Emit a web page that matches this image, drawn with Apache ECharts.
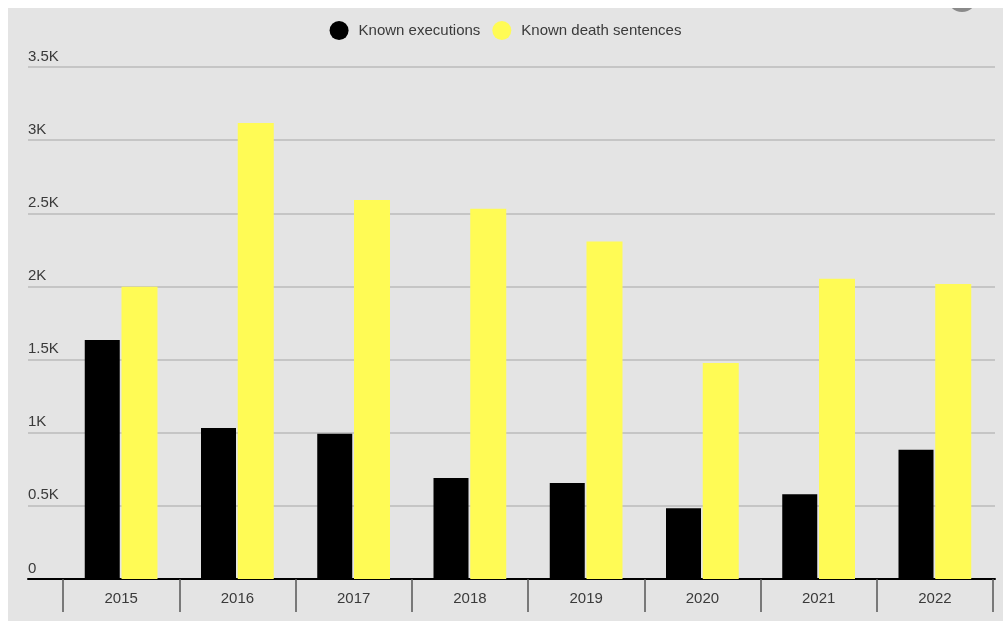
<!DOCTYPE html>
<html>
<head>
<meta charset="utf-8">
<script src="https://cdn.jsdelivr.net/npm/echarts@6/dist/echarts.min.js"></script>
<style>
	html, body { margin: 0; padding: 0; background: #ffffff; }
	#main { position: absolute; left: 8px; top: 8px; width: 995px; height: 613px; background: #e4e4e4; }
</style>
</head>
<body>
<div id="main"></div>
<script>
var years = ['2015', '2016', '2017', '2018', '2019', '2020', '2021', '2022'];
var executions = [1634, 1032, 993, 690, 657, 483, 579, 883]; // Known executions
var sentences = [1998, 3117, 2591, 2531, 2307, 1477, 2052, 2016]; // Known death sentences
var yTicks = [0, 500, 1000, 1500, 2000, 2500, 3000, 3500];

var font = '"Liberation Sans", Arial, sans-serif';
var myChart = echarts.init(document.getElementById('main'));

myChart.setOption({
	backgroundColor: 'transparent',
	textStyle: { fontFamily: font },
	legend: {
		top: 8,
		left: 'center',
		icon: 'circle',
		itemWidth: 19,
		itemHeight: 20,
		itemGap: 12,
		textStyle: { fontSize: 15, color: '#3a3a3a', fontFamily: font, padding: [0, 0, 0, 5] },
		data: ['Known executions', 'Known death sentences']
	},
	graphic: [{
		type: 'circle',
		shape: { cx: 954, cy: -11, r: 15 },
		style: { fill: '#8a8a8a' },
		silent: true
	}],
	grid: [
		{ left: 20, right: 8, top: 59, bottom: 42 },
		{ left: 55, right: 10, top: 59, bottom: 42 }
	],
	xAxis: [
		{
			gridIndex: 0,
			type: 'value',
			min: 0,
			max: 1,
			axisLine: { show: true, lineStyle: { color: '#000', width: 2 } },
			axisTick: { show: false },
			axisLabel: { show: false },
			splitLine: { show: false }
		},
		{
			gridIndex: 1,
			type: 'category',
			data: years,
			axisLine: { show: false },
			axisTick: { show: true, length: 33, lineStyle: { color: '#555', width: 1.5 } },
			axisLabel: { fontSize: 15, color: '#3a3a3a', margin: 12, fontFamily: font }
		}
	],
	yAxis: [
		{
			gridIndex: 0,
			type: 'value',
			min: yTicks[0],
			max: yTicks[yTicks.length - 1],
			interval: 500,
			axisLine: { show: false },
			axisTick: { show: false },
			axisLabel: {
				inside: true,
				margin: 0,
				align: 'left',
				verticalAlign: 'bottom',
				padding: [0, 0, 3, 0],
				fontSize: 15,
				color: '#3a3a3a',
				fontFamily: font,
				formatter: function (v) { return v === 0 ? '0' : (v / 1000) + 'K'; }
			},
			splitLine: { show: true, lineStyle: { color: '#bbbbbb', width: 1.5 } }
		},
		{
			gridIndex: 1,
			type: 'value',
			min: yTicks[0],
			max: yTicks[yTicks.length - 1],
			interval: 500,
			show: false,
			splitLine: { show: false }
		}
	],
	series: [
		{
			name: 'Known executions',
			type: 'bar',
			xAxisIndex: 1,
			yAxisIndex: 1,
			barWidth: 35,
			barGap: '5%',
			itemStyle: { color: '#000000' },
			data: executions
		},
		{
			name: 'Known death sentences',
			type: 'bar',
			xAxisIndex: 1,
			yAxisIndex: 1,
			barWidth: 36,
			itemStyle: { color: '#fffb55' },
			data: sentences
		}
	]
});
</script>
</body>
</html>
